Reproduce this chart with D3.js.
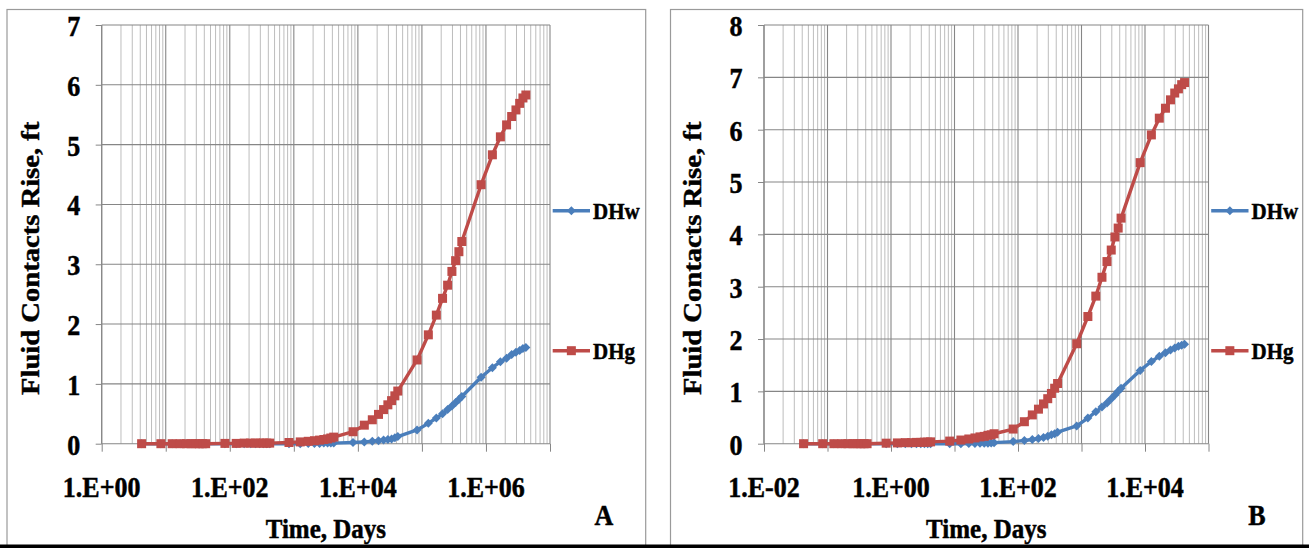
<!DOCTYPE html>
<html><head><meta charset="utf-8">
<script src="https://cdn.jsdelivr.net/npm/d3@7"></script>
<style>
body{margin:0;background:#fff}
svg{display:block}
</style>
</head><body>
<svg id="c" width="1309" height="548"></svg>
<script>
// ---------- DATA ----------
const seriesNames = ["DHw", "DHg"];
const timeA = [4.2, 8.4, 12.6, 16.8, 21, 25.2, 29.4, 33.6, 37.8, 42,
  84, 126, 168, 210, 252, 294, 336, 378, 420,
  840, 1260, 1680, 2100, 2520, 2940, 3360, 3780, 4200,
  8400, 12600, 16800, 21000, 25200, 29400, 33600, 37800, 42000,
  84000, 126000, 168000, 210000, 252000, 294000, 336000, 378000, 420000,
  840000, 1260000, 1680000, 2100000, 2520000, 2940000, 3360000, 3780000, 4200000];
const dhwA = [0,0,0,0,0,0,0,0,0,0,
  0,0,0,0,0,0,0,0,0,
  0,0,0.005,0.005,0.005,0.01,0.01,0.01,0.01,
  0.02,0.03,0.04,0.05,0.06,0.07,0.08,0.10,0.12,
  0.23,0.34,0.43,0.50,0.57,0.63,0.69,0.74,0.79,
  1.11,1.27,1.37,1.43,1.49,1.53,1.56,1.59,1.61];
const dhgA = [0,0,0,0,0,0,0,0,0,0,
  0.005,0.005,0.01,0.01,0.01,0.01,0.01,0.01,0.01,
  0.02,0.03,0.04,0.05,0.06,0.07,0.08,0.095,0.11,
  0.20,0.31,0.40,0.49,0.57,0.65,0.72,0.80,0.88,
  1.40,1.82,2.15,2.43,2.65,2.88,3.06,3.21,3.38,
  4.33,4.83,5.13,5.33,5.47,5.58,5.69,5.78,5.83];
const timeB = [0.042, 0.084, 0.126, 0.168, 0.21, 0.252, 0.294, 0.336, 0.378, 0.42,
  0.84, 1.26, 1.68, 2.1, 2.52, 2.94, 3.36, 3.78, 4.2,
  8.4, 12.6, 16.8, 21, 25.2, 29.4, 33.6, 37.8, 42,
  84, 126, 168, 210, 252, 294, 336, 378, 420,
  840, 1260, 1680, 2100, 2520, 2940, 3360, 3780, 4200,
  8400, 12600, 16800, 21000, 25200, 29400, 33600, 37800, 42000];
const dhwB = [0,0,0,0,0,0,0,0,0,0,
  0,0,0,0,0,0,0,0,0,
  0,0,0.005,0.005,0.01,0.01,0.01,0.015,0.02,
  0.04,0.06,0.08,0.10,0.12,0.14,0.17,0.19,0.22,
  0.34,0.49,0.61,0.70,0.78,0.86,0.93,1.00,1.06,
  1.40,1.57,1.67,1.74,1.79,1.83,1.86,1.88,1.90];
const dhgB = [0,0,0,0,0,0,0,0,0,0,
  0.01,0.015,0.02,0.02,0.025,0.025,0.03,0.03,0.035,
  0.05,0.07,0.09,0.11,0.13,0.14,0.16,0.17,0.19,
  0.28,0.42,0.55,0.66,0.76,0.86,0.96,1.06,1.15,
  1.91,2.43,2.82,3.18,3.48,3.70,3.95,4.12,4.31,
  5.37,5.90,6.22,6.41,6.57,6.70,6.78,6.86,6.90];
const xTickValsA = [1, 100, 10000, 1000000];
const xTickLabelsA = ["1.E+00", "1.E+02", "1.E+04", "1.E+06"];
const xTickValsB = [0.01, 1, 100, 10000];
const xTickLabelsB = ["1.E-02", "1.E+00", "1.E+02", "1.E+04"];
const yTicksA = [0, 1, 2, 3, 4, 5, 6, 7];
const yTicksB = [0, 1, 2, 3, 4, 5, 6, 7, 8];
const xTitle = "Time, Days";
const yTitle = "Fluid Contacts Rise, ft";

// ---------- DRAW ----------
const FONT = "Liberation Serif";
const svg = d3.select("#c");
const colors = ["#4A7EBB", "#BE4B48"];
const SY = 1.1;

function styleText(t, size, anchor){
  return t.attr("font-family", FONT).attr("font-weight", "bold").attr("fill", "#000")
    .attr("stroke", "#000").attr("stroke-width", 0.45)
    .attr("text-anchor", anchor).attr("font-size", size);
}
function label(g, x, y, txt, size, anchor){
  return styleText(g.append("text").attr("transform", `translate(${x},${y}) scale(1,${SY})`), size, anchor).text(txt);
}

function panel(o){
  const x = d3.scaleLog().domain(o.xDomain).range([o.left, o.right]);
  const y = d3.scaleLinear().domain([0, o.yMax]).range([o.bottom, o.top]);
  const g = svg.append("g");

  g.append("rect").attr("x", o.bx0).attr("y", 9.5).attr("width", o.bx1 - o.bx0)
    .attr("height", 560).attr("fill", "none").attr("stroke", "#9a9a9a").attr("stroke-width", 1.2);

  // grid
  const all = x.ticks();
  const isMajor = v => Math.abs(Math.log10(v) - Math.round(Math.log10(v))) < 1e-9;
  g.append("g").selectAll("line").data(all.filter(v => !isMajor(v))).join("line")
    .attr("x1", d => x(d)).attr("x2", d => x(d)).attr("y1", o.top).attr("y2", o.bottom)
    .attr("stroke", "#bdbdbd").attr("stroke-width", 1);
  g.append("g").selectAll("line").data(all.filter(v => isMajor(v))).join("line")
    .attr("x1", d => x(d)).attr("x2", d => x(d)).attr("y1", o.top).attr("y2", o.bottom)
    .attr("stroke", "#868686").attr("stroke-width", 1.1);
  g.append("g").selectAll("line").data(o.yTicks.filter(v => v > 0)).join("line")
    .attr("x1", o.left).attr("x2", o.right).attr("y1", d => y(d)).attr("y2", d => y(d))
    .attr("stroke", "#868686").attr("stroke-width", 1.1);

  // axes
  const xa = g.append("g").attr("transform", `translate(0,${o.bottom})`)
    .call(d3.axisBottom(x).tickValues(all.filter(v => isMajor(v))).tickSize(8).tickFormat(""));
  xa.select(".domain").attr("stroke", "#868686").attr("stroke-width", 1.1).attr("d", `M${o.left},0H${o.right}`);
  xa.selectAll(".tick line").attr("stroke", "#868686");
  const ya = g.append("g").attr("transform", `translate(${o.left},0)`)
    .call(d3.axisLeft(y).tickValues(o.yTicks).tickSize(6).tickFormat(""));
  ya.select(".domain").attr("stroke", "#868686").attr("stroke-width", 1.1).attr("d", `M0,${o.top}V${o.bottom}`);
  ya.selectAll(".tick line").attr("stroke", "#868686");

  // tick labels
  o.xTickVals.forEach((v, i) => label(g, x(v), 497, o.xTickLabels[i], 26, "middle"));
  o.yTicks.forEach(v => label(g, o.left - 21.5, y(v) + 11, String(v), 26, "end"));

  // titles
  label(g, (o.left + o.right) / 2, 538, xTitle, 25, "middle");
  styleText(g.append("text").attr("transform", `translate(${o.left - 63},${(o.top + o.bottom) / 2 + 24}) rotate(-90) scale(${SY},1)`), 26, "middle").text(yTitle);
  label(g, o.letterX, 525, o.letter, 26, "middle");

  // series
  const line = d3.line().x(d => x(d[0])).y(d => y(d[1]));
  o.series.forEach((s, si) => {
    const pts = o.time.map((t, i) => [t, s[i]]);
    const c = colors[si];
    g.append("path").datum(pts).attr("d", line).attr("fill", "none")
      .attr("stroke", c).attr("stroke-width", 3.4).attr("stroke-linejoin", "round");
    if (si === 0) {
      g.append("g").selectAll("path").data(pts).join("path")
        .attr("transform", d => `translate(${x(d[0])},${y(d[1])})`)
        .attr("d", "M0,-4.5L4.5,0L0,4.5L-4.5,0Z").attr("fill", c);
    } else {
      g.append("g").selectAll("rect").data(pts).join("rect")
        .attr("x", d => x(d[0]) - 4.5).attr("y", d => y(d[1]) - 4.5)
        .attr("width", 9).attr("height", 9).attr("fill", c);
    }
    // legend
    const ly = [210.7, 350.7][si];
    const lx0 = o.right + 2.7, lx1 = o.right + 40;
    g.append("line").attr("x1", lx0).attr("x2", lx1).attr("y1", ly).attr("y2", ly)
      .attr("stroke", c).attr("stroke-width", 3.4);
    const mx = (lx0 + lx1) / 2;
    if (si === 0) g.append("path").attr("transform", `translate(${mx},${ly})`).attr("d", "M0,-4.5L4.5,0L0,4.5L-4.5,0Z").attr("fill", c);
    else g.append("rect").attr("x", mx - 4.5).attr("y", ly - 4.5).attr("width", 9).attr("height", 9).attr("fill", c);
    label(g, o.right + 43, ly + 8.5, seriesNames[si], 21, "start");
  });
}

panel({xDomain: [1, 1e7], left: 101.7, right: 550, top: 25, bottom: 443.7, yMax: 7,
  yTicks: yTicksA, xTickVals: xTickValsA, xTickLabels: xTickLabelsA,
  time: timeA, series: [dhwA, dhgA], bx0: 7, bx1: 645.7, letter: "A", letterX: 604});
panel({xDomain: [0.01, 1e5], left: 764, right: 1208.5, top: 25, bottom: 443.7, yMax: 8,
  yTicks: yTicksB, xTickVals: xTickValsB, xTickLabels: xTickLabelsB,
  time: timeB, series: [dhwB, dhgB], bx0: 670.5, bx1: 1302.7, letter: "B", letterX: 1257});

svg.append("rect").attr("x", 0).attr("y", 544.5).attr("width", 1309).attr("height", 3.5).attr("fill", "#000");
</script>
</body></html>
